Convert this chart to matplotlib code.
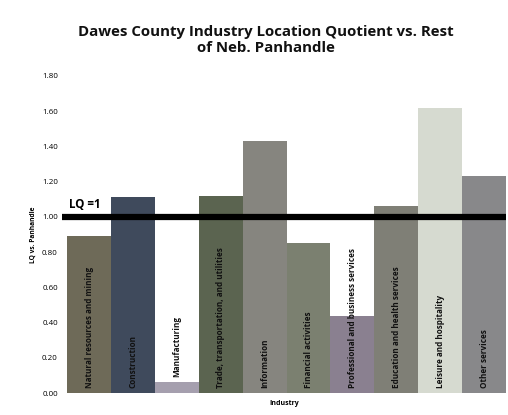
import matplotlib
matplotlib.use('Agg')
import matplotlib.pyplot as plt

industries = [
    'Natural resources and mining', 'Construction', 'Manufacturing',
    'Trade, transportation, and utilities', 'Information', 'Financial activities',
    'Professional and business services', 'Education and health services',
    'Leisure and hospitality', 'Other services',
]
lq_values = [0.89, 1.11, 0.06, 1.12, 1.43, 0.85, 0.44, 1.06, 1.62, 1.23]
bar_colors = ['#6e6a58', '#3f4a5c', '#a59fae', '#5b6450', '#86857f',
              '#7b8070', '#8a8090', '#7f7f76', '#d6dad0', '#88888a']
yticks = [0.0, 0.2, 0.4, 0.6, 0.8, 1.0, 1.2, 1.4, 1.6, 1.8]

plt.rcParams['font.family'] = ['Open Sans', 'DejaVu Sans']

fig = plt.figure(figsize=(5.08, 4.15), dpi=100)
ax = fig.add_axes([0.122, 0.053, 0.874, 0.764])

x = range(len(industries))
ax.bar(x, lq_values, width=1.0, color=bar_colors, linewidth=0)
ax.axhline(1.0, color='black', linewidth=4.5, zorder=3)
ax.text(-0.47, 1.035, 'LQ =1', fontsize=8.3, fontweight='bold', va='bottom', zorder=4)

# category names written vertically inside the bars
for i, (name, v) in enumerate(zip(industries, lq_values)):
    y0 = 0.03 if v > 0.2 else v + 0.03
    ax.text(i, y0, name, rotation=90, ha='center', va='bottom',
            fontsize=5.9, fontweight='bold', color='#111111', zorder=4)

ax.set_xlim(-0.62, 9.5)
ax.set_ylim(0, 1.8)
ax.set_yticks(yticks)
ax.set_yticklabels([f'{t:.2f}' for t in yticks], fontsize=5.8)
ax.set_xticks([])
ax.tick_params(axis='y', length=0, pad=3)
for s in ax.spines.values():
    s.set_visible(False)

ax.set_ylabel('LQ vs. Panhandle', fontsize=4.8, fontweight='bold', labelpad=4)
ax.set_xlabel('Industry', fontsize=5, fontweight='bold', labelpad=5)

fig.suptitle('Dawes County Industry Location Quotient vs. Rest\nof Neb. Panhandle',
             fontsize=10.8, fontweight='bold', x=0.524, y=0.94, color='#111111',
             linespacing=1.2)

fig.savefig('out.png', dpi=100, facecolor='white')
